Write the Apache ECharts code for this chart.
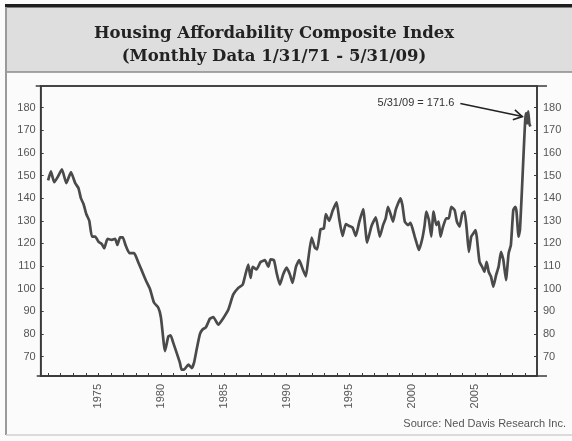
<!DOCTYPE html>
<html>
<head>
<meta charset="utf-8">
<script src="https://cdn.jsdelivr.net/npm/echarts@6/dist/echarts.min.js"></script>
<style>html,body{margin:0;padding:0;background:#fbfbfb;}#c{width:572px;height:441px;}</style>
</head>
<body>
<div id="c"></div>
<script>
// ---- data ----
const titleLines = ['Housing Affordability Composite Index', '(Monthly Data 1/31/71 - 5/31/09)'];
const sourceText = 'Source: Ned Davis Research Inc.';
const noteText = '5/31/09 = 171.6';
const years = [
1971.00,1971.22,1971.49,1971.76,1972.10,1972.45,1972.82,1973.16,1973.42,1973.61,1973.82,1974.04,1974.28,1974.49,1974.75,
1975.02,1975.28,1975.47,1975.73,1976.07,1976.34,1976.52,1976.73,1976.95,1977.14,1977.48,1977.85,1978.19,1978.46,1978.80,
1979.12,1979.43,1979.78,1979.99,1980.31,1980.58,1980.76,1980.97,1981.24,1981.50,1981.63,1981.83,1982.17,1982.44,1982.62,
1982.83,1983.09,1983.30,1983.57,1983.89,1984.16,1984.56,1984.95,1985.35,1985.74,1986.15,1986.50,1986.68,1986.94,1987.13,
1987.29,1987.60,1987.92,1988.27,1988.54,1988.72,1988.99,1989.20,1989.46,1989.72,1990.00,1990.26,1990.47,1990.74,1991.00,
1991.27,1991.53,1991.72,1991.99,1992.25,1992.43,1992.70,1992.96,1993.12,1993.39,1993.66,1993.98,1994.19,1994.45,1994.71,
1994.98,1995.25,1995.51,1995.77,1996.09,1996.41,1996.76,1997.10,1997.42,1997.68,1997.89,1998.07,1998.26,1998.47,1998.68,
1998.88,1999.06,1999.22,1999.41,1999.67,1999.86,2000.02,2000.20,2000.38,2000.54,2000.81,2000.99,2001.12,2001.33,2001.52,
2001.70,2001.92,2002.10,2002.26,2002.44,2002.71,2002.92,2003.11,2003.38,2003.56,2003.77,2003.99,2004.17,2004.35,2004.51,
2004.70,2004.88,2005.04,2005.14,2005.36,2005.57,2005.75,2005.93,2006.09,2006.28,2006.46,2006.68,2006.88,2007.07,2007.26,
2007.47,2007.68,2007.86,2008.05,2008.21,2008.31,2008.47,2008.58,2008.74,2008.86,2009.00,2009.08,2009.16,2009.24,2009.33,
2009.41];
const values = [
147.8,151.8,147.0,149.3,152.7,146.6,151.5,146.6,144.4,140.0,137.4,133.0,130.0,123.0,123.0,
120.7,119.7,117.8,122.0,121.6,122.0,119.3,122.7,122.7,119.7,115.7,115.7,111.6,108.0,103.5,
99.8,93.9,91.6,87.2,72.5,79.0,79.4,76.1,71.7,67.3,64.3,64.3,66.5,65.0,67.3,
73.2,80.0,82.0,83.0,86.8,87.5,84.1,87.0,90.7,97.4,100.4,101.8,105.5,110.7,104.8,
109.7,108.5,111.8,112.6,109.7,113.0,112.6,107.0,101.8,106.3,109.3,106.3,102.6,109.7,112.6,
108.8,105.5,113.0,122.6,118.1,117.4,126.3,126.6,132.9,130.0,134.4,138.1,130.7,123.3,128.5,
127.7,127.0,123.3,129.2,135.2,120.4,127.7,131.5,123.0,128.1,131.1,136.2,133.3,129.6,134.7,
137.7,139.9,137.0,129.6,128.1,129.1,126.7,123.0,119.7,117.1,122.3,128.1,134.0,130.3,123.0,
134.0,128.1,129.6,123.0,127.1,131.1,131.1,136.2,134.7,129.6,127.4,133.3,134.0,125.9,116.3,
123.0,124.5,125.9,123.0,111.9,109.7,107.5,111.9,107.5,105.3,100.9,106.0,109.7,116.3,112.7,
103.8,115.6,119.3,134.7,136.2,134.0,123.0,125.9,143.6,158.3,174.5,177.5,173.0,178.3,173.0,
171.6];
const yTickValues = [70,80,90,100,110,120,130,140,150,160,170,180];
const xLabelYears = [1975,1980,1985,1990,1995,2000,2005];
const xTickYears = [1971,1972,1973,1974,1975,1976,1977,1978,1979,1980,1981,1982,1983,1984,1985,1986,1987,1988,1989,1990,
1991,1992,1993,1994,1995,1996,1997,1998,1999,2000,2001,2002,2003,2004,2005,2006,2007,2008,2009];

const chart = echarts.init(document.getElementById('c'), null, {renderer: 'canvas'});
const axisColor = '#3a3a3a';
const labelStyle = {color: '#555', fontSize: 11, fontFamily: 'Liberation Sans, Arial, sans-serif'};

function yAxisCfg(pos) {
  return {
    type: 'value', position: pos, min: 61.48, max: 189.5,
    axisLine: {show: true, lineStyle: {color: axisColor, width: 1.6}},
    axisTick: {show: true, inside: true, length: 3, customValues: yTickValues, lineStyle: {color: axisColor}},
    axisLabel: Object.assign({customValues: yTickValues, margin: pos === 'left' ? 5 : 6}, labelStyle),
    splitLine: {show: false}
  };
}

const titleFont = 'bold 16.5px "DejaVu Serif", serif';
const baseGraphics = [
  {id: 'band', type: 'rect', z: -5, shape: {x: 6, y: 7, width: 566, height: 65}, style: {fill: '#dedede'}},
  {id: 'topbar', type: 'rect', z: -4, shape: {x: 5, y: 4, width: 567, height: 3.5}, style: {fill: '#1e1e1e'}},
  {id: 'sep', type: 'line', z: -4, shape: {x1: 6, y1: 72, x2: 572, y2: 72}, style: {stroke: '#8a8a8a', lineWidth: 1.5}},
  {id: 'lborder', type: 'line', z: -4, shape: {x1: 6, y1: 7, x2: 6, y2: 435}, style: {stroke: '#9a9a9a', lineWidth: 2}},
  {id: 'bborder', type: 'line', z: -4, shape: {x1: 6, y1: 435, x2: 572, y2: 435}, style: {stroke: '#d0d0d0', lineWidth: 1.5}},
  {id: 't1', type: 'text', x: 274, y: 34, style: {text: titleLines[0], font: titleFont, fill: '#222', align: 'center', verticalAlign: 'middle'}},
  {id: 't2', type: 'text', x: 274, y: 57, style: {text: titleLines[1], font: titleFont, fill: '#222', align: 'center', verticalAlign: 'middle'}},
  {id: 'src', type: 'text', right: 6, top: 418, style: {text: sourceText, font: '11px "Liberation Sans", Arial, sans-serif', fill: '#555'}}
];

chart.setOption({
  backgroundColor: '#fbfbfb',
  animation: false,
  grid: {left: 40.7, right: 35, top: 86, bottom: 65, show: true, borderColor: axisColor, borderWidth: 1.6, backgroundColor: 'transparent'},
  xAxis: [{
    type: 'value', min: 1970.41, max: 2009.94,
    axisLine: {show: true, lineStyle: {color: axisColor, width: 1.6}},
    axisTick: {show: true, inside: true, length: 3, customValues: xTickYears, lineStyle: {color: axisColor}},
    axisLabel: Object.assign({customValues: xLabelYears, rotate: 90, margin: 8, formatter: v => String(v)}, labelStyle),
    splitLine: {show: false}
  }],
  yAxis: [yAxisCfg('left'), yAxisCfg('right')],
  series: [{
    type: 'line',
    data: years.map((y, i) => [y, values[i]]),
    showSymbol: false,
    smooth: 0.15,
    lineStyle: {color: '#4a4a4a', width: 2.7},
    z: 3
  }],
  graphic: baseGraphics
});

// frame extensions past the plot corners, taken from the grid rectangle
const gridRect = chart.getModel().getComponent('grid', 0).coordinateSystem.getRect();
const gl = gridRect.x, gr = gridRect.x + gridRect.width, gt = gridRect.y, gb = gridRect.y + gridRect.height;

// annotation anchored to the last data point
const lastPt = chart.convertToPixel({seriesIndex: 0}, [years[years.length - 1], values[values.length - 1]]);
const tip = [lastPt[0] - 8, lastPt[1] - 10];
const start = [lastPt[0] - 70, lastPt[1] - 23];
const dx = tip[0] - start[0], dy = tip[1] - start[1];
const len = Math.sqrt(dx * dx + dy * dy);
const ux = dx / len, uy = dy / len;
const ah = 10, ang = Math.PI / 6;
function rot(x, y, a) { return [x * Math.cos(a) - y * Math.sin(a), x * Math.sin(a) + y * Math.cos(a)]; }
const r1 = rot(-ux, -uy, ang), r2 = rot(-ux, -uy, -ang);
chart.setOption({
  graphic: baseGraphics.concat([
    {id: 'extTop', type: 'line', z: 10, shape: {x1: gl - 5, y1: gt, x2: gr + 10, y2: gt}, style: {stroke: axisColor, lineWidth: 1.6}},
    {id: 'extBot', type: 'line', z: 10, shape: {x1: gl - 4, y1: gb, x2: gr + 10, y2: gb}, style: {stroke: axisColor, lineWidth: 1.6}},
    {id: 'arrowLine', type: 'line', z: 10, shape: {x1: start[0], y1: start[1], x2: tip[0], y2: tip[1]}, style: {stroke: '#222', lineWidth: 1.6}},
    {id: 'arrowHead', type: 'polyline', z: 10, shape: {points: [[tip[0] + r1[0] * ah, tip[1] + r1[1] * ah], tip, [tip[0] + r2[0] * ah, tip[1] + r2[1] * ah]]}, style: {stroke: '#222', lineWidth: 1.6, fill: null}},
    {id: 'note', type: 'text', z: 10, x: start[0] - 6, y: start[1] - 1, style: {text: noteText, font: '11px "Liberation Sans", Arial, sans-serif', fill: '#333', align: 'right', verticalAlign: 'middle'}}
  ])
});
</script>
</body>
</html>
